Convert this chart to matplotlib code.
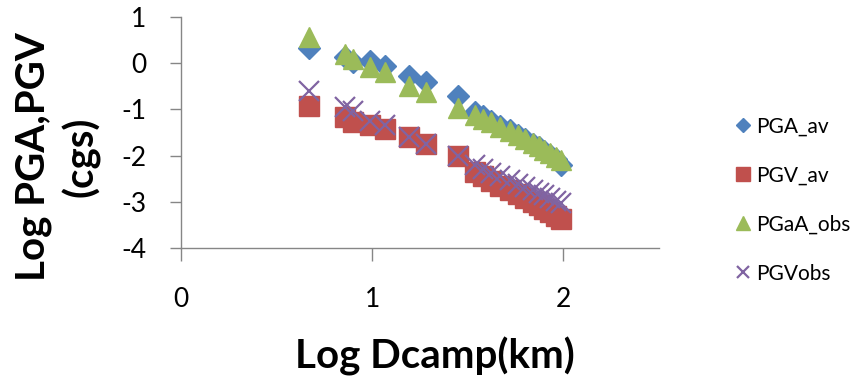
import matplotlib
matplotlib.use("Agg")
import matplotlib.pyplot as plt

plt.rcParams['font.family'] = ['Lato', 'DejaVu Sans']

# log distance (km) shared by all series
log_d = [0.67, 0.86, 0.90, 0.99, 1.065, 1.19, 1.28, 1.45, 1.54, 1.58, 1.62,
         1.67, 1.72, 1.76, 1.80, 1.84, 1.87, 1.90, 1.93, 1.96, 1.99]
pga_av = [0.32, 0.13, 0.02, 0.04, -0.06, -0.28, -0.40, -0.70, -1.06, -1.15, -1.25,
          -1.35, -1.45, -1.55, -1.65, -1.75, -1.82, -1.90, -1.98, -2.08, -2.20]
pgv_av = [-0.93, -1.17, -1.28, -1.33, -1.43, -1.60, -1.75, -2.00, -2.35, -2.45, -2.55,
          -2.65, -2.75, -2.83, -2.92, -3.00, -3.08, -3.15, -3.22, -3.30, -3.38]
pga_obs = [0.56, 0.20, 0.09, -0.09, -0.20, -0.50, -0.62, -0.98, -1.12, -1.20, -1.28,
           -1.38, -1.47, -1.56, -1.65, -1.73, -1.80, -1.87, -1.94, -2.02, -2.10]
pgv_obs = [-0.60, -0.95, -1.03, -1.25, -1.34, -1.60, -1.75, -2.00, -2.20, -2.28, -2.37,
           -2.45, -2.53, -2.61, -2.68, -2.75, -2.80, -2.86, -2.92, -2.98, -3.02]

fig = plt.figure(figsize=(8.57, 3.85), dpi=100)
ax = fig.add_axes([181/857, 1 - 248/385, 478/857, 231/385])

ax.plot(log_d, pga_av, 'D', color='#4F81BD', ms=11, mec='#4F81BD', label='PGA_av')
ax.plot(log_d, pgv_av, 's', color='#C0504D', ms=15, mec='#C0504D', label='PGV_av')
ax.plot(log_d, pga_obs, '^', color='#9BBB59', ms=15, mec='#9BBB59', label='PGaA_obs')
ax.plot(log_d, pgv_obs, 'x', color='#8064A2', ms=14, mew=1.6, label='PGVobs')

ax.set_xlim(0, 2.5)
ax.set_ylim(-4, 1)
ax.set_xticks([0, 1, 2])
ax.set_yticks([-4, -3, -2, -1, 0, 1])
ax.set_yticklabels(['-4', '-3', '-2', '-1', '0', '1'])

for s in ['top', 'right']:
    ax.spines[s].set_visible(False)
for s in ['left', 'bottom']:
    ax.spines[s].set_color('#868686')
    ax.spines[s].set_linewidth(1.0)
ax.tick_params(axis='x', direction='out', length=9, width=1, color='#868686',
               labelsize=19, pad=19)
ax.tick_params(axis='y', direction='out', length=8, width=1, color='#868686',
               labelsize=19, pad=17)

ax.set_xlabel('Log Dcamp(km)', fontsize=29, fontweight='bold', va='center')
ax.xaxis.set_label_coords((435 - 181) / 478, (248 - 356) / 231)
ax.set_ylabel('Log PGA,PGV\n(cgs)', fontsize=29, fontweight='bold', va='center',
              ha='center', linespacing=1.3)
ax.yaxis.set_label_coords((58 - 181) / 478, (248 - 157) / 231)

ax.legend(loc='center left', bbox_to_anchor=(718/857, 1 - 200/385),
          bbox_transform=fig.transFigure, frameon=False, fontsize=15,
          markerscale=0.65, handlelength=0.6, handletextpad=0.35, labelspacing=1.4)

fig.savefig('out.png', dpi=100)
